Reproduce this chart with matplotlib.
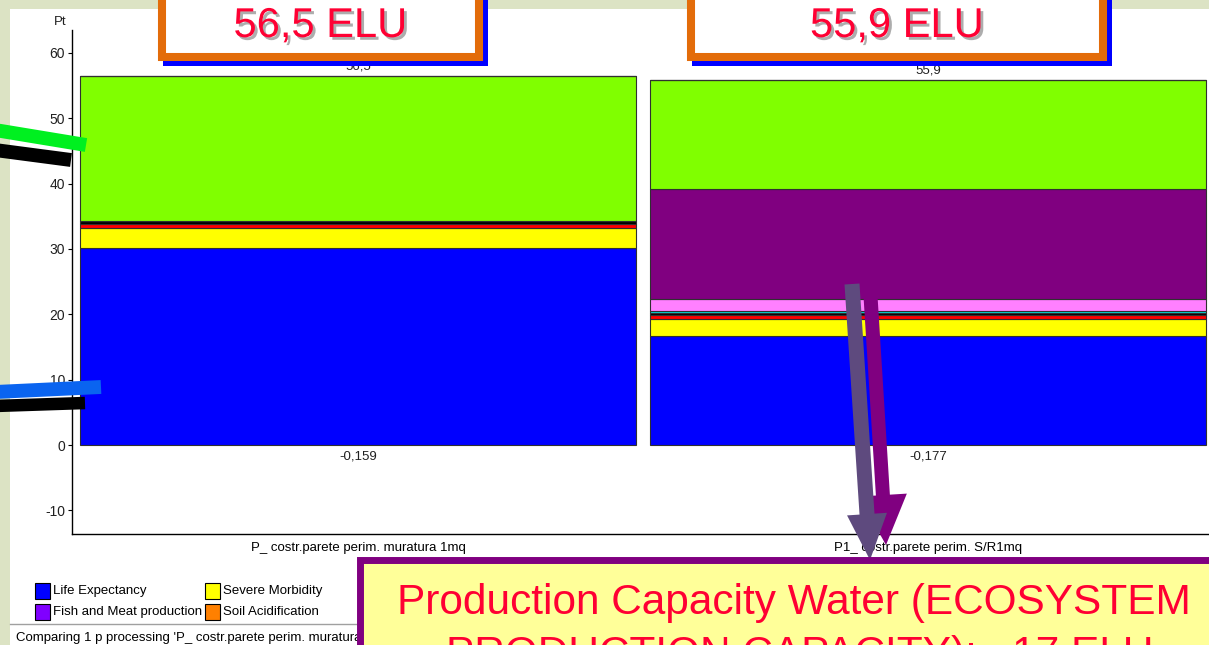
import matplotlib
matplotlib.use("Agg")
import matplotlib.pyplot as plt
from matplotlib.patches import Rectangle, FancyArrow
import matplotlib.patheffects as pe

# ---------------- data ----------------
categories = ["P_ costr.parete perim. muratura 1mq", "P1_ costr.parete perim. S/R1mq"]

series_names = ["Life Expectancy", "Severe Morbidity", "Morbidity", "Severe Nuisance",
                "Wood Production Capacity", "Prod. Cap. Drinking Water",
                "Prod. Cap. Irrigation Water", "Depletion of Reserves",
                "Fish and Meat production", "Soil Acidification"]
life_expectancy = [30.2, 16.7]
severe_morbidity = [3.0, 2.6]
morbidity = [0.55, 0.65]
severe_nuisance = [0.55, 0.25]
wood_production = [0.0, 0.3]
drinking_water = [0.0, 1.8]
irrigation_water = [0.0, 16.9]
depletion_reserves = [22.2, 16.7]
fish_meat = [0.0, 0.0]
soil_acidification = [0.0, 0.0]
series_values = [life_expectancy, severe_morbidity, morbidity, severe_nuisance,
                 wood_production, drinking_water, irrigation_water,
                 depletion_reserves, fish_meat, soil_acidification]
series_colors = ["#0000FF", "#FFFF00", "#FF0000", "#000000", "#00E0E0", "#FF80FF",
                 "#800080", "#80FF00", "#8000FF", "#FF8000"]
negative_totals = [-0.159, -0.177]
legend_names = ["Life Expectancy", "Severe Morbidity", "Fish and Meat production", "Soil Acidification"]

yticks = [-10, 0, 10, 20, 30, 40, 50, 60]

box_labels = ["56,5 ELU", "55,9 ELU"]
note_lines = ["Production Capacity Water (ECOSYSTEM", "PRODUCTION CAPACITY):   17 ELU"]
status_text = "Comparing 1 p processing 'P_ costr.parete perim. muratura"

# ---------------- figure ----------------
W, H = 1209, 645
fig = plt.figure(figsize=(W / 100, H / 100), dpi=100)
fig.patch.set_facecolor("#DCE3C4")

small = ["Liberation Sans", "DejaVu Sans"]
arial = ["Liberation Sans", "DejaVu Sans"]
fs = 9.5

# background panel
bg = fig.add_axes([0, 0, 1, 1], zorder=0)
bg.set_xlim(0, W); bg.set_ylim(H, 0); bg.axis("off")
bg.add_patch(Rectangle((10, 9), W, H, facecolor="white", edgecolor="none"))
bg.plot([10, W], [624, 624], color="#A0A0A0", lw=1)
bg.text(16, 638, status_text, family=small, fontsize=fs, va="center", ha="left", color="#000000")
bg.text(60, 22, "Pt", family=small, fontsize=fs, va="center", ha="center", color="#202020")

# legend (manual, from series arrays)
leg_pos = [(35, 591), (205, 591), (35, 612), (205, 612)]
for name, (lx, ly) in zip(legend_names, leg_pos):
    c = series_colors[series_names.index(name)]
    bg.add_patch(Rectangle((lx, ly - 8), 15, 16, facecolor=c, edgecolor="black", lw=0.8))
    bg.text(lx + 18, ly, name, family=small, fontsize=fs, va="center", ha="left", color="#000000")

# main axes
axl, axr = 72 / W, 1.0
axb, axt = 1 - 534 / H, 1 - 30 / H
ax = fig.add_axes([axl, axb, axr - axl, axt - axb], zorder=1)
ax.set_facecolor("none")
ax.set_xlim(-0.502, 1.493)
ax.set_ylim(-13.6, 63.5)

x = list(range(len(categories)))
bottoms = [0.0] * len(categories)
for vals, col in zip(series_values, series_colors):
    ax.bar(x, vals, width=0.975, bottom=bottoms, color=col, edgecolor="#303030", linewidth=0.8)
    bottoms = [b + v for b, v in zip(bottoms, vals)]

for xi, tot in zip(x, bottoms):
    ax.annotate(f"{tot:.1f}".replace(".", ","), (xi, tot), xytext=(0, 2), textcoords="offset points",
                ha="center", va="bottom", family=small, fontsize=fs, color="#202020")
for xi, neg in zip(x, negative_totals):
    ax.annotate(f"{neg:.3f}".replace(".", ","), (xi, neg), xytext=(0, -3), textcoords="offset points",
                ha="center", va="top", family=small, fontsize=fs, color="#202020")

for s in ["top", "right"]:
    ax.spines[s].set_visible(False)
for s in ["left", "bottom"]:
    ax.spines[s].set_color("black")
    ax.spines[s].set_linewidth(1.0)
ax.set_yticks(yticks)
ax.set_yticklabels([str(t) for t in yticks], family=small, fontsize=fs + 0.5, color="#202020")
ax.tick_params(axis="y", direction="out", length=3, width=0.8, pad=2)
ax.set_xticks(x)
ax.set_xticklabels(categories, family=small, fontsize=fs, color="#000000")
ax.tick_params(axis="x", length=0, pad=6)

# ---------------- overlay decorations ----------------
fg = fig.add_axes([0, 0, 1, 1], zorder=10)
fg.set_facecolor("none")
fg.set_xlim(0, W); fg.set_ylim(H, 0); fg.axis("off")

# pointer bands at the left
fg.plot([-5, 86], [130, 145], color="#00F020", lw=10, solid_capstyle="butt")
fg.plot([-5, 71], [150, 160], color="#000000", lw=10, solid_capstyle="butt")
fg.plot([-5, 85], [406, 403], color="#000000", lw=9, solid_capstyle="butt")
fg.plot([-5, 101], [392, 387], color="#0A64F0", lw=10, solid_capstyle="butt")

# arrows
fg.add_patch(FancyArrow(870, 288, 16, 257, width=14, head_width=48, head_length=50,
                        length_includes_head=True, color="#800080", lw=0))
fg.add_patch(FancyArrow(852, 284, 18, 276, width=15, head_width=40, head_length=46,
                        length_includes_head=True, color="#5E4A7E", lw=0))

# top boxes
shadow = [pe.SimplePatchShadow(offset=(2, -2), shadow_rgbFace="#999999", alpha=0.8), pe.Normal()]
for (x0, x1), lab in zip([(158, 483), (687, 1107)], box_labels):
    fg.add_patch(Rectangle((x0 + 5, -30), x1 - x0, 96, facecolor="#0000FF", edgecolor="none"))
    fg.add_patch(Rectangle((x0 + 4, -30), x1 - x0 - 8, 87, facecolor="white",
                           edgecolor="#E36C0A", lw=5.8))
    fg.text((x0 + x1) / 2, 26, lab, family=arial, fontsize=30, color="#FF0033",
            ha="center", va="center", path_effects=shadow)

# bottom-right note box (second line runs past the lower edge, as in the source slide)
fg.add_patch(Rectangle((359.5, 559.5), 900, 150, facecolor="#FFFF99", edgecolor="#800080", lw=5.0))
fg.text(794, 614, note_lines[0], family=arial, fontsize=30.5, color="#FF0033", ha="center", va="baseline")
fg.text(800, 666, note_lines[1], family=arial, fontsize=30.5, color="#FF0033", ha="center", va="baseline")

fig.savefig("out.png", dpi=100, facecolor=fig.get_facecolor())
